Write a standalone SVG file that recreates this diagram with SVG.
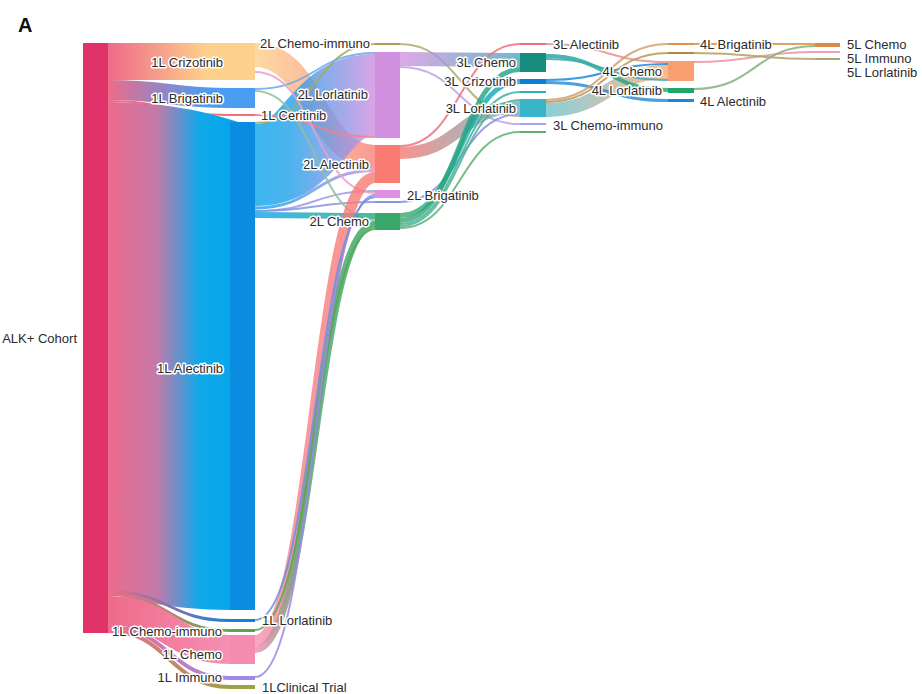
<svg xmlns="http://www.w3.org/2000/svg" width="922" height="694" viewBox="0 0 922 694">
<defs>
<style>
.lb{font-family:"Liberation Sans",Arial,sans-serif;font-size:13px;fill:#2b2b2b;paint-order:stroke;stroke:#fff;stroke-width:3px;stroke-linejoin:round}
.r{text-anchor:end}
.s{fill:none;stroke-opacity:0.8}
.t{fill:none;stroke-opacity:0.85;stroke-width:2}
.a{fill:none}
</style>
<linearGradient id="gcz" gradientUnits="userSpaceOnUse" x1="108" y1="0" x2="230" y2="0"><stop offset="0" stop-color="#ef6a8a"/><stop offset="0.8" stop-color="#fdd08c"/></linearGradient>
<linearGradient id="gbr" gradientUnits="userSpaceOnUse" x1="108" y1="0" x2="230" y2="0"><stop offset="0" stop-color="#ef6a8a"/><stop offset="0.8" stop-color="#4a9df0"/></linearGradient>
<linearGradient id="gce" gradientUnits="userSpaceOnUse" x1="108" y1="0" x2="230" y2="0"><stop offset="0" stop-color="#ef6a8a"/><stop offset="1" stop-color="#f0707a"/></linearGradient>
<linearGradient id="gal" gradientUnits="userSpaceOnUse" x1="108" y1="0" x2="230" y2="0"><stop offset="0" stop-color="#ec6a8c"/><stop offset="0.4" stop-color="#c47aa8"/><stop offset="0.75" stop-color="#10a8ea"/><stop offset="1" stop-color="#06a6ec"/></linearGradient>
<linearGradient id="glo" gradientUnits="userSpaceOnUse" x1="108" y1="0" x2="230" y2="0"><stop offset="0" stop-color="#ef6a8a"/><stop offset="1" stop-color="#1a7ed8"/></linearGradient>
<linearGradient id="gci" gradientUnits="userSpaceOnUse" x1="108" y1="0" x2="230" y2="0"><stop offset="0" stop-color="#ef6a8a"/><stop offset="1" stop-color="#6aa848"/></linearGradient>
<linearGradient id="gch" gradientUnits="userSpaceOnUse" x1="108" y1="0" x2="230" y2="0"><stop offset="0" stop-color="#ef6a8a"/><stop offset="1" stop-color="#f590b4"/></linearGradient>
<linearGradient id="gim" gradientUnits="userSpaceOnUse" x1="108" y1="0" x2="230" y2="0"><stop offset="0" stop-color="#ef6a8a"/><stop offset="1" stop-color="#a088e8"/></linearGradient>
<linearGradient id="gct" gradientUnits="userSpaceOnUse" x1="108" y1="0" x2="230" y2="0"><stop offset="0" stop-color="#ef6a8a"/><stop offset="1" stop-color="#a0a048"/></linearGradient>
<linearGradient id="g_al_lo2" gradientUnits="userSpaceOnUse" x1="255" y1="0" x2="375" y2="0"><stop offset="0" stop-color="#0aa4ec"/><stop offset="0.3" stop-color="#20a0ea"/><stop offset="1" stop-color="#d08ee0"/></linearGradient>
<linearGradient id="g_cz_al2" gradientUnits="userSpaceOnUse" x1="255" y1="0" x2="375" y2="0"><stop offset="0" stop-color="#fdd08c"/><stop offset="1" stop-color="#f88078"/></linearGradient>
<linearGradient id="g_al_al2" gradientUnits="userSpaceOnUse" x1="255" y1="0" x2="375" y2="0"><stop offset="0" stop-color="#0aa4ec"/><stop offset="1" stop-color="#c890e0"/></linearGradient>
<linearGradient id="g_ch_al2" gradientUnits="userSpaceOnUse" x1="255" y1="0" x2="375" y2="0"><stop offset="0" stop-color="#f590b4"/><stop offset="0.3" stop-color="#f7808a"/><stop offset="1" stop-color="#f87870"/></linearGradient>
<linearGradient id="g_ch_ch2" gradientUnits="userSpaceOnUse" x1="255" y1="0" x2="375" y2="0"><stop offset="0" stop-color="#f590b4"/><stop offset="0.4" stop-color="#5aa878"/><stop offset="1" stop-color="#3aa86a"/></linearGradient>
<linearGradient id="g_al_ch2" gradientUnits="userSpaceOnUse" x1="255" y1="0" x2="375" y2="0"><stop offset="0" stop-color="#0aa4ec"/><stop offset="1" stop-color="#2aa880"/></linearGradient>
<linearGradient id="g_lo2_ch3" gradientUnits="userSpaceOnUse" x1="400" y1="0" x2="520" y2="0"><stop offset="0" stop-color="#d493e0"/><stop offset="1" stop-color="#4aa8c0"/></linearGradient>
<linearGradient id="g_al2_lo3" gradientUnits="userSpaceOnUse" x1="400" y1="0" x2="520" y2="0"><stop offset="0" stop-color="#f87870"/><stop offset="1" stop-color="#5ab8c8"/></linearGradient>
<linearGradient id="g_ch2_cz3" gradientUnits="userSpaceOnUse" x1="400" y1="0" x2="520" y2="0"><stop offset="0" stop-color="#3aa86a"/><stop offset="0.5" stop-color="#10b0a8"/><stop offset="1" stop-color="#0aa0c8"/></linearGradient>
<linearGradient id="g_ch2_ch3" gradientUnits="userSpaceOnUse" x1="400" y1="0" x2="520" y2="0"><stop offset="0" stop-color="#3aa86a"/><stop offset="1" stop-color="#16a090"/></linearGradient>
<linearGradient id="g_lo3_ch4" gradientUnits="userSpaceOnUse" x1="546" y1="0" x2="668" y2="0"><stop offset="0" stop-color="#6cc4d0"/><stop offset="1" stop-color="#f8a878"/></linearGradient>
<linearGradient id="g_ch3_lo4" gradientUnits="userSpaceOnUse" x1="546" y1="0" x2="668" y2="0"><stop offset="0" stop-color="#22a0a0"/><stop offset="1" stop-color="#20a868"/></linearGradient>
</defs>
<rect width="922" height="694" fill="#fff"/>
<text x="18" y="32" style="font-family:'Liberation Sans',Arial,sans-serif;font-size:20px;font-weight:bold;fill:#111">A</text>
<g id="connectors">
<!-- ALK+ to 1L -->
<path class="a" stroke="url(#gcz)" stroke-width="37" d="M108 61.5C169 61.5 169 61.5 230 61.5"/>
<path class="a" stroke="url(#gbr)" stroke-width="20" d="M108 90C169 90 169 98 230 98"/>
<path class="a" stroke="url(#gce)" stroke-width="2" d="M108 101C169 101 169 115 230 115"/>
<path class="a" stroke="url(#gal)" stroke-width="488" d="M108 346C169 346 169 366 230 366"/>
<path class="a" stroke="url(#glo)" stroke-width="3" d="M108 591.5C169 591.5 169 620.5 230 620.5"/>
<path class="a" stroke="url(#gci)" stroke-width="3" d="M108 594.5C169 594.5 169 630.5 230 630.5"/>
<path class="a" stroke="url(#gch)" stroke-width="29" d="M108 610.5C169 610.5 169 649.5 230 649.5"/>
<path class="a" stroke="url(#gim)" stroke-width="4" d="M108 627C169 627 169 678 230 678"/>
<path class="a" stroke="url(#gct)" stroke-width="4" d="M108 631C169 631 169 687 230 687"/>
<!-- 1L to 2L -->
<path class="s" stroke="url(#g_cz_al2)" stroke-width="24" d="M255 55C315 55 315 157 375 157"/>
<path class="s" stroke="url(#g_al_al2)" stroke-width="3" d="M255 208C315 208 315 170.5 375 170.5"/>
<path class="s" stroke="url(#g_al_lo2)" stroke-width="82" d="M255 165C315 165 315 95 375 95"/>
<path class="t" stroke="#a8a860" d="M255 123C315 123 315 44 375 44"/>
<path class="t" stroke="#6aa8f0" d="M255 89C315 89 315 53 375 53"/>
<path class="t" stroke="#f08090" d="M255 115C315 115 315 137 375 137"/>
<path class="t" stroke="#9a9ae8" d="M255 211C315 211 315 191 375 191"/>
<path class="t" stroke="#8890e0" d="M255 211C315 211 315 202 375 202"/>
<path class="t" stroke="#e8a0c8" d="M255 72C315 72 315 193 375 193"/>
<path class="t" stroke="#90c0a0" d="M255 91C315 91 315 220 375 220"/>
<path class="s" stroke="url(#g_al_ch2)" stroke-width="6" d="M255 215C315 215 315 216 375 216"/>
<path class="s" stroke="url(#g_ch_al2)" stroke-width="11" d="M255 640.5C315 640.5 315 177.5 375 177.5"/>
<path fill="none" stroke="url(#g_ch_ch2)" stroke-opacity="0.85" stroke-width="7" d="M255 649.5C315 649.5 315 224.5 375 224.5"/>
<path class="t" stroke="#5aa848" d="M255 630C315 630 315 229 375 229"/>
<path class="t" stroke="#a088e8" d="M255 677C315 677 315 195 375 195"/>
<path class="t" stroke="#6a90e0" d="M255 620C315 620 315 197 375 197"/>
<!-- 2L to 3L -->
<path class="t" stroke="#b0a870" d="M400 44C460 44 460 116 520 116"/>
<path class="s" stroke="url(#g_lo2_ch3)" stroke-width="14" d="M400 59C460 59 460 60 520 60"/>
<path class="t" stroke="#c0a0e8" d="M400 67C460 67 460 124 520 124"/>
<path class="t" stroke="#f07080" d="M400 146C460 146 460 44 520 44"/>
<path class="s" stroke="url(#g_al2_lo3)" stroke-width="12" d="M400 153C460 153 460 107 520 107"/>
<path class="t" stroke="#8890e0" d="M400 202C460 202 460 114 520 114"/>
<path class="s" stroke="url(#g_ch2_cz3)" stroke-width="5" d="M400 215.5C460 215.5 460 81.5 520 81.5"/>
<path class="s" stroke="url(#g_ch2_ch3)" stroke-width="5" d="M400 220.5C460 220.5 460 69.5 520 69.5"/>
<path class="t" stroke="#40b0a0" d="M400 224C460 224 460 92 520 92"/>
<path class="t" stroke="#50b090" d="M400 226C460 226 460 100 520 100"/>
<path class="t" stroke="#60b078" d="M400 228C460 228 460 132 520 132"/>
<!-- 3L to 4L -->
<path class="t" stroke="#e89090" d="M546 44C607 44 607 62 668 62"/>
<path class="s" stroke="url(#g_lo3_ch4)" stroke-width="14" d="M546 110C607 110 607 72 668 72"/>
<path class="s" stroke="url(#g_ch3_lo4)" stroke-width="4" d="M546 56C607 56 607 90 668 90"/>
<path class="t" stroke="#40a8b0" d="M546 59C607 59 607 80 668 80"/>
<path class="t" stroke="#1a88d8" d="M546 80C607 80 607 64 668 64"/>
<path class="s" stroke="#1a88d8" stroke-width="3" d="M546 82.5C607 82.5 607 100.5 668 100.5"/>
<path class="t" stroke="#d0a070" d="M546 100C607 100 607 44 668 44"/>
<path class="t" stroke="#b89858" d="M546 102C607 102 607 53 668 53"/>
<!-- 4L to 5L -->
<path class="t" stroke="#e09048" d="M694 44C755 44 755 44 815 44"/>
<path class="t" stroke="#f090a0" d="M694 62C755 62 755 52 815 52"/>
<path class="t" stroke="#b0a060" d="M694 53C755 53 755 59 815 59"/>
<path class="t" stroke="#80b080" d="M694 89C755 89 755 46 815 46"/>
</g>
<g id="n-alk"><rect x="83" y="43" width="25" height="590" fill="#e0336a"/><text class="lb r" x="77" y="343">ALK+ Cohort</text></g>
<g id="n-1l-crizotinib"><rect x="230" y="43" width="25" height="37" fill="#fdd08c"/><text class="lb r" x="223" y="66.5">1L Crizotinib</text></g>
<g id="n-1l-brigatinib"><rect x="230" y="88" width="25" height="20" fill="#4a9df0"/><text class="lb r" x="223" y="102.5">1L Brigatinib</text></g>
<g id="n-1l-ceritinib"><rect x="230" y="114" width="25" height="2" fill="#f0707a"/><text class="lb" x="261" y="119.5">1L Ceritinib</text></g>
<g id="n-1l-alectinib"><rect x="230" y="122" width="25" height="488" fill="#0a8ce0"/><text class="lb r" x="223" y="372.5">1L Alectinib</text></g>
<g id="n-1l-lorlatinib"><rect x="230" y="619" width="25" height="3" fill="#1a7ed8"/><text class="lb" x="262" y="624.5">1L Lorlatinib</text></g>
<g id="n-1l-chemo-immuno"><rect x="230" y="629" width="25" height="3" fill="#5aa548"/><text class="lb r" x="222" y="635.5">1L Chemo-immuno</text></g>
<g id="n-1l-chemo"><rect x="230" y="635" width="25" height="29" fill="#f48cb0"/><text class="lb r" x="222" y="658.5">1L Chemo</text></g>
<g id="n-1l-immuno"><rect x="230" y="676" width="25" height="4" fill="#a088e8"/><text class="lb r" x="222" y="681.5">1L Immuno</text></g>
<g id="n-1l-clinical"><rect x="230" y="685" width="25" height="4" fill="#a0a048"/><text class="lb" x="262" y="692">1LClinical Trial</text></g>
<g id="n-2l-chemo-immuno"><rect x="375" y="43" width="25" height="2" fill="#a8a058"/><text class="lb r" x="370" y="47.5">2L Chemo-immuno</text></g>
<g id="n-2l-lorlatinib"><rect x="375" y="52" width="25" height="86" fill="#d18fe0"/><text class="lb r" x="368" y="98.5">2L Lorlatinib</text></g>
<g id="n-2l-alectinib"><rect x="375" y="145" width="25" height="38" fill="#f97a70"/><text class="lb r" x="369" y="168.5">2L Alectinib</text></g>
<g id="n-2l-brigatinib"><rect x="375" y="190" width="25" height="8" fill="#df8ee0"/><text class="lb" x="407" y="199.5">2L Brigatinib</text></g>
<g id="n-2l-other"><rect x="375" y="201" width="25" height="2" fill="#8a92e0"/></g>
<g id="n-2l-chemo"><rect x="375" y="213" width="25" height="17" fill="#3aa86a"/><text class="lb r" x="369" y="225.5">2L Chemo</text></g>
<g id="n-3l-alectinib"><rect x="520" y="43" width="26" height="2" fill="#f06a80"/><text class="lb" x="553" y="48.5">3L Alectinib</text></g>
<g id="n-3l-chemo"><rect x="520" y="53" width="26" height="19" fill="#168c7e"/><text class="lb r" x="516" y="66.5">3L Chemo</text></g>
<g id="n-3l-crizotinib"><rect x="520" y="79" width="26" height="5" fill="#0a7fd6"/><text class="lb r" x="516" y="85.5">3L Crizotinib</text></g>
<g id="n-3l-other"><rect x="520" y="91" width="26" height="2" fill="#30b0b0"/></g>
<g id="n-3l-lorlatinib"><rect x="520" y="99" width="26" height="18" fill="#3ab4c8"/><text class="lb r" x="516" y="112.5">3L Lorlatinib</text></g>
<g id="n-3l-chemo-immuno"><rect x="520" y="123" width="26" height="2" fill="#a8a0e8"/><text class="lb" x="553" y="129.5">3L Chemo-immuno</text></g>
<g id="n-3l-other2"><rect x="520" y="131" width="26" height="2" fill="#60b070"/></g>
<g id="n-4l-brigatinib"><rect x="668" y="43" width="26" height="2" fill="#e0904a"/><text class="lb" x="700" y="48.5">4L Brigatinib</text></g>
<g id="n-4l-other"><rect x="668" y="52" width="26" height="2" fill="#b08a40"/></g>
<g id="n-4l-chemo"><rect x="668" y="61" width="26" height="20" fill="#f8a070"/><text class="lb r" x="662" y="75.5">4L Chemo</text></g>
<g id="n-4l-lorlatinib"><rect x="668" y="88" width="26" height="5" fill="#20a868"/><text class="lb r" x="662" y="94.5">4L Lorlatinib</text></g>
<g id="n-4l-alectinib"><rect x="668" y="99" width="26" height="3" fill="#1a88d8"/><text class="lb" x="700" y="105.5">4L Alectinib</text></g>
<g id="n-5l-chemo"><rect x="815" y="43" width="25" height="4" fill="#e08a48"/><text class="lb" x="847" y="48.5">5L Chemo</text></g>
<g id="n-5l-immuno"><rect x="815" y="51" width="25" height="2" fill="#f0a0b0"/><text class="lb" x="847" y="62.5">5L Immuno</text></g>
<g id="n-5l-lorlatinib"><rect x="815" y="58" width="25" height="2" fill="#a8a868"/><text class="lb" x="847" y="76.5">5L Lorlatinib</text></g>
</svg>
